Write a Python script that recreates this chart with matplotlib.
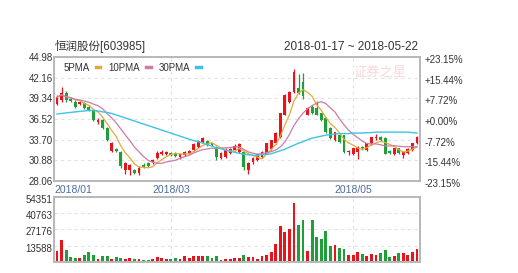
#!/usr/bin/env python3
import matplotlib
import matplotlib.pyplot as plt
from matplotlib.lines import Line2D
from matplotlib.transforms import ScaledTranslation
import pandas as pd

matplotlib.use('Agg')

plt.rcParams['font.family'] = ['Liberation Sans', 'Noto Sans CJK SC']

stock_name = '恒润股份[603985]'
date_range = '2018-01-17 ~ 2018-05-22'
holidays = ['2018-02-15', '2018-02-16', '2018-02-19', '2018-02-20', '2018-02-21',
            '2018-04-05', '2018-04-06', '2018-04-30', '2018-05-01']
dates = [d for d in pd.bdate_range('2018-01-18', '2018-05-22')
         if d.strftime('%Y-%m-%d') not in holidays]

opens = [38.6, 39.1, 40.0, 39.3, 38.9, 38.6, 38.7, 38.2, 37.8, 36.1,
         36.4, 35.3, 32.1, 32.4, 32.0, 29.5, 29.6, 29.5, 29.2, 30.3,
         30.5, 30.6, 31.2, 31.7, 31.7, 31.9, 31.9, 31.3, 31.6, 31.8,
         32.25, 32.7, 33.4, 33.5, 33.2, 32.7, 31.2, 31.3, 31.9, 32.3,
         32.0, 32.0, 29.5, 30.6, 30.9, 31.3, 31.8, 32.4, 33.2, 34.0,
         37.1, 38.9, 40.2, 40.8, 41.6, 37.1, 38.2, 38.0, 37.3, 36.7,
         35.3, 33.6, 34.3, 34.3, 32.0, 31.8, 32.0, 32.7, 32.3, 33.2,
         33.9, 34.0, 33.9, 32.2, 31.7, 32.5, 31.6, 31.9, 32.3, 33.2]
closes = [39.5, 40.1, 39.1, 39.0, 38.2, 38.85, 38.0, 37.8, 36.4, 36.4,
          35.3, 33.6, 33.2, 32.1, 30.1, 30.5, 30.2, 29.1, 29.9, 30.0,
          30.1, 30.9, 31.9, 32.0, 32.0, 31.6, 31.5, 31.7, 32.0, 32.1,
          33.1, 33.5, 33.9, 32.95, 32.95, 31.3, 31.85, 32.3, 32.4, 32.9,
          33.1, 30.0, 30.5, 31.2, 31.7, 32.0, 33.2, 33.6, 34.6, 37.3,
          39.8, 40.2, 42.9, 40.1, 39.6, 38.0, 37.4, 37.1, 36.4, 34.7,
          33.9, 34.7, 33.4, 32.0, 32.2, 32.5, 32.7, 32.5, 33.2, 34.0,
          34.0, 33.6, 31.8, 31.9, 32.5, 31.9, 32.0, 32.4, 33.2, 34.0]
highs = [39.8, 40.9, 40.3, 39.5, 39.1, 39.0, 38.9, 38.4, 37.9, 36.6,
         36.5, 35.4, 33.4, 32.6, 32.1, 30.7, 30.4, 29.7, 30.1, 30.5,
         30.6, 31.1, 32.1, 32.3, 32.2, 32.0, 32.0, 31.8, 32.2, 32.3,
         33.2, 33.7, 34.1, 33.7, 33.3, 32.8, 32.0, 32.5, 32.6, 33.1,
         33.3, 32.1, 30.7, 31.3, 31.8, 32.1, 33.3, 33.7, 34.7, 37.4,
         39.9, 40.4, 43.3, 42.6, 42.8, 38.2, 38.4, 39.0, 37.4, 36.8,
         35.4, 34.8, 34.4, 34.4, 32.3, 32.6, 32.8, 32.8, 33.3, 34.1,
         34.5, 34.2, 34.0, 32.3, 32.6, 32.6, 32.1, 32.5, 33.3, 34.2]
lows = [38.4, 38.9, 38.9, 38.8, 38.0, 38.4, 37.9, 37.6, 36.3, 35.9,
        35.2, 33.5, 32.0, 32.0, 29.9, 29.0, 28.9, 29.0, 28.9, 29.9,
        30.0, 30.4, 31.0, 31.6, 31.6, 31.5, 31.4, 31.1, 31.5, 31.7,
        32.1, 32.6, 33.3, 32.8, 32.8, 30.9, 31.1, 31.2, 31.8, 32.2,
        31.9, 29.5, 29.0, 30.4, 30.8, 31.2, 31.7, 32.3, 33.1, 33.9,
        37.0, 38.7, 40.0, 39.9, 39.2, 37.0, 37.2, 37.0, 36.3, 34.6,
        33.8, 33.5, 33.3, 31.9, 31.6, 31.6, 31.0, 32.3, 32.2, 33.0,
        33.6, 33.5, 31.7, 31.8, 31.6, 31.8, 31.2, 31.8, 32.2, 33.1]
volumes = [9200, 18400, 10000, 3900, 3600, 3600, 5900, 8100, 5900, 2200,
           5000, 5000, 2500, 4000, 3300, 2500, 3300, 2900, 2900, 1700,
           1300, 2100, 4000, 3300, 2500, 2500, 3300, 2500, 4600, 3300,
           5000, 5000, 4600, 4600, 3300, 5000, 1700, 2200, 2200, 3100,
           3600, 5900, 4200, 4200, 2200, 5000, 5900, 8400, 15000, 30100,
           25000, 27600, 49600, 31200, 35100, 9200, 35100, 20900, 19000, 26200,
           13600, 14200, 12000, 11100, 5900, 5900, 8400, 6700, 5000, 6700,
           5900, 7500, 10000, 4200, 5000, 7500, 7500, 5900, 8400, 10900]
ma30 = [37.21, 37.28, 37.35, 37.42, 37.49, 37.55, 37.62, 37.69, 37.69, 37.62,
        37.49, 37.42, 37.28, 37.07, 36.87, 36.66, 36.45, 36.25, 36.04, 35.83,
        35.63, 35.42, 35.22, 35.01, 34.80, 34.60, 34.39, 34.18, 33.98, 33.77,
        33.56, 33.43, 33.22, 33.01, 32.81, 32.60, 32.46, 32.26, 32.12, 31.98,
        31.84, 31.71, 31.64, 31.57, 31.57, 31.64, 31.71, 31.77, 31.98, 32.19,
        32.39, 32.67, 32.94, 33.22, 33.43, 33.70, 33.91, 34.05, 34.18, 34.32,
        34.39, 34.46, 34.53, 34.53, 34.53, 34.60, 34.60, 34.60, 34.66, 34.66,
        34.73, 34.73, 34.73, 34.73, 34.73, 34.73, 34.73, 34.73, 34.66, 34.60]

price_ticks = [28.06, 30.88, 33.70, 36.52, 39.34, 42.16, 44.98]
price_labels = ['28.06', '30.88', '33.70', '36.52', '39.34', '42.16', '44.98']
pct_labels = ['-23.15%', '-15.44%', '-7.72%', '+0.00%', '+7.72%', '+15.44%', '+23.15%']
volume_ticks = [0, 13588, 27176, 40763, 54351]
volume_labels = ['', '13588', '27176', '40763', '54351']
month_labels = ['2018/01', '2018/03', '2018/05']

UP = '#e8141c'
DOWN = '#1f9e3a'
MA_COLORS = {'5PMA': '#e3aa3a', '10PMA': '#cf7aa8', '30PMA': '#3cc4e2'}
BORDER = '#b8b8b8'
GRID = '#e2e2e2'
TEXT = '#333333'


def style_axes(ax):
    for s in ax.spines.values():
        s.set_color(BORDER)
        s.set_linewidth(1.4)
    ax.tick_params(length=0, labelsize=7, colors=TEXT, pad=1)
    ax.grid(True, linestyle=(0, (3, 3)), color=GRID, linewidth=0.8)
    ax.set_axisbelow(True)


def shift_labels(fig, labels, dy_px):
    # nudge tick labels a couple of pixels down, as in the original
    offset = ScaledTranslation(0, -dy_px / fig.dpi, fig.dpi_scale_trans)
    for lab in labels:
        lab.set_transform(lab.get_transform() + offset)


def draw_candles(ax, x):
    colors = [UP if c >= o else DOWN for o, c in zip(opens, closes)]
    ax.vlines(x, lows, highs, colors=colors, linewidth=0.9)
    bottoms = [min(o, c) for o, c in zip(opens, closes)]
    heights = [max(abs(c - o), 0.08) for o, c in zip(opens, closes)]
    ax.bar(x, heights, bottom=bottoms, width=0.62, color=colors, linewidth=0)
    return colors


def main():
    n = len(closes)
    x = list(range(n))
    xlim = (-0.66, n - 1 + 0.66)
    month_pos = [xlim[0]]
    for lab in month_labels[1:]:
        month_pos.append(next(i for i, d in enumerate(dates) if d.strftime('%Y/%m') == lab))

    close_s = pd.Series(closes)
    ma5 = close_s.rolling(5, min_periods=1).mean()
    ma10 = close_s.rolling(10, min_periods=1).mean()

    fig = plt.figure(figsize=(5.18, 2.73), dpi=100)
    ax = fig.add_axes([0.1042, 0.337, 0.7066, 0.4542])
    axv = fig.add_axes([0.1042, 0.0403, 0.7066, 0.2381])

    style_axes(ax)
    colors = draw_candles(ax, x)
    ax.plot(x, ma5, color=MA_COLORS['5PMA'], linewidth=0.9)
    ax.plot(x, ma10, color=MA_COLORS['10PMA'], linewidth=0.9)
    ax.plot(x, ma30, color=MA_COLORS['30PMA'], linewidth=1.0)
    ax.set_xlim(xlim)
    ax.set_ylim(price_ticks[0], price_ticks[-1])
    ax.set_yticks(price_ticks)
    ax.set_yticklabels(price_labels)
    ax.set_xticks(month_pos)
    ax.set_xticklabels(month_labels, color='#4c6c9c', fontsize=7.5)
    ax.tick_params(axis='x', pad=3)
    ax.get_xticklabels()[0].set_horizontalalignment('left')

    axr = ax.twinx()
    axr.set_ylim(price_ticks[0], price_ticks[-1])
    axr.set_yticks(price_ticks)
    axr.set_yticklabels(pct_labels)
    axr.tick_params(length=0, labelsize=7, colors=TEXT, pad=3)
    for s in axr.spines.values():
        s.set_visible(False)
    shift_labels(fig, axr.get_yticklabels(), 2)

    handles = [Line2D([], [], color=c, linewidth=2.5) for c in MA_COLORS.values()]
    leg = ax.legend(handles, list(MA_COLORS.keys()), loc='upper left', ncol=3,
                    markerfirst=False, frameon=False, fontsize=7, handlelength=0.5,
                    handletextpad=0.6, columnspacing=0.8, borderaxespad=0.2,
                    bbox_to_anchor=(0.01, 1.0))
    for t in leg.get_texts():
        t.set_color(TEXT)

    ax.text(0.89, 0.88, '证券之星', transform=ax.transAxes, ha='center', va='center',
            fontsize=9.5, color='#f9d6dc', family=['Noto Sans CJK SC'])

    fig.text(0.106, 0.828, stock_name, fontsize=8.3, color=TEXT, ha='left', va='center')
    fig.text(0.807, 0.828, date_range, fontsize=8.5, color=TEXT, ha='right', va='center')

    style_axes(axv)
    axv.bar(x, volumes, width=0.62, color=colors, linewidth=0)
    axv.set_xlim(xlim)
    axv.set_ylim(volume_ticks[0], volume_ticks[-1])
    axv.set_yticks(volume_ticks)
    axv.set_yticklabels(volume_labels)
    axv.set_xticks(month_pos)
    axv.set_xticklabels([])
    shift_labels(fig, axv.get_yticklabels(), 2)

    fig.savefig('out.png', dpi=100, facecolor='white')


if __name__ == '__main__':
    main()
